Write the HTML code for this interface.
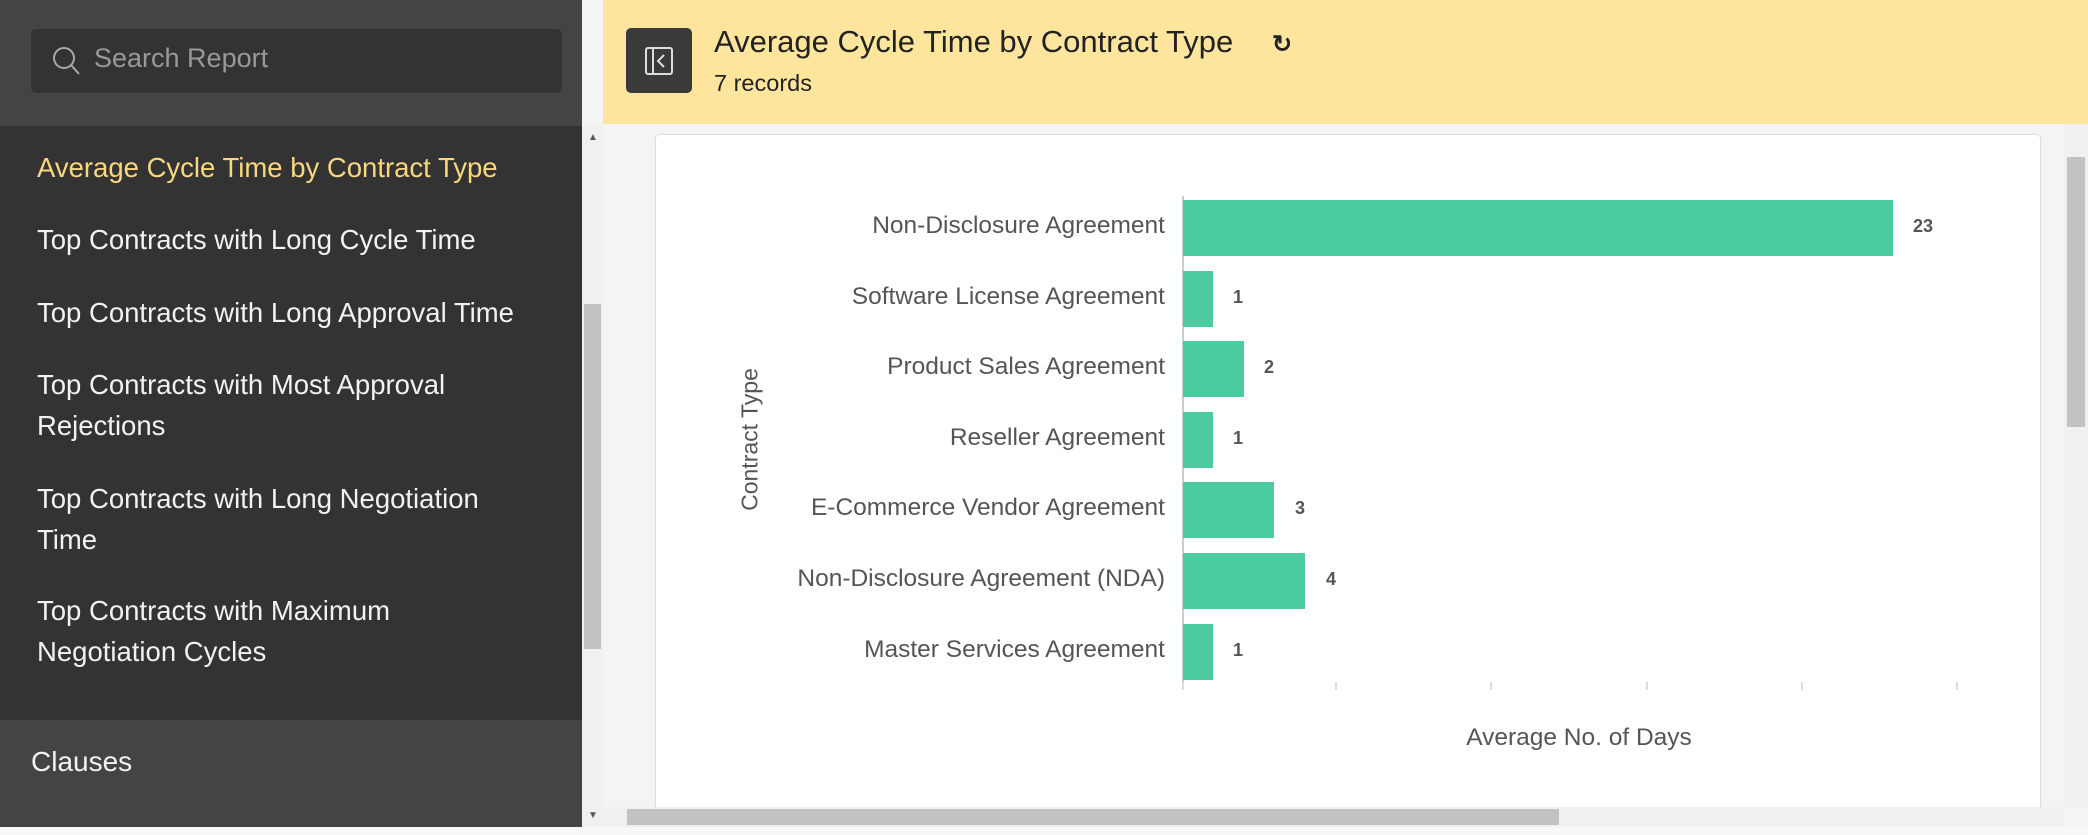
<!DOCTYPE html>
<html><head><style>
*{margin:0;padding:0;box-sizing:border-box}
body{width:2088px;height:835px;overflow:hidden;background:#f4f4f4;font-family:"Liberation Sans",sans-serif;position:relative}
.a{position:absolute}
.side{left:0;top:0;width:582px;height:835px;background:#333}
.item{position:absolute;left:37px;color:#f2f2f2;font-size:27.5px;line-height:41px;white-space:nowrap}
.lbl{position:absolute;right:923px;font-size:24.5px;color:#555;text-align:right;white-space:nowrap}
.bar{position:absolute;left:1183px;height:56px;background:#4bcb9f}
.val{position:absolute;font-size:18px;color:#555;font-weight:bold}
</style></head><body>
<div class="a side"></div>
<div class="a" style="left:0;top:0;width:582px;height:126px;background:#444"></div>
<div class="a" style="left:31px;top:29px;width:531px;height:64px;background:#333;border-radius:5px"></div>
<svg class="a" style="left:52px;top:46px" width="30" height="32"><circle cx="12" cy="12" r="10" fill="none" stroke="#aaa" stroke-width="2"/><line x1="19" y1="19" x2="27" y2="28" stroke="#aaa" stroke-width="2"/></svg>
<div class="a" style="left:94px;top:43px;font-size:27px;color:#999">Search Report</div>
<div class="item" style="top:147px;color:#f8d77e">Average Cycle Time by Contract Type</div>
<div class="item" style="top:219px">Top Contracts with Long Cycle Time</div>
<div class="item" style="top:292px">Top Contracts with Long Approval Time</div>
<div class="item" style="top:364px">Top Contracts with Most Approval<br>Rejections</div>
<div class="item" style="top:478px">Top Contracts with Long Negotiation<br>Time</div>
<div class="item" style="top:590px">Top Contracts with Maximum<br>Negotiation Cycles</div>
<div class="a" style="left:0;top:720px;width:582px;height:115px;background:#444"></div>
<div class="a" style="left:31px;top:746px;font-size:28px;color:#f2f2f2">Clauses</div>
<div class="a" style="left:582px;top:126px;width:21px;height:701px;background:#f0f0f0"></div>
<div class="a" style="left:584px;top:304px;width:17px;height:345px;background:#c1c1c1"></div>
<div class="a" style="left:588px;top:132px;font-size:10px;color:#555">▲</div>
<div class="a" style="left:588px;top:810px;font-size:10px;color:#555">▼</div>
<div class="a" style="left:603px;top:0;width:1485px;height:124px;background:#fde59d"></div>
<div class="a" style="left:626px;top:28px;width:66px;height:65px;background:#3a3a3a;border-radius:5px"></div>
<svg class="a" style="left:645px;top:47px" width="28" height="28"><rect x="1" y="1" width="26" height="26" rx="2" fill="none" stroke="#ddd" stroke-width="2"/><line x1="8" y1="2" x2="8" y2="26" stroke="#ddd" stroke-width="2"/><polyline points="19,8 13,14 19,20" fill="none" stroke="#ddd" stroke-width="2"/></svg>
<div class="a" style="left:714px;top:24px;font-size:31px;color:#222">Average Cycle Time by Contract Type</div>
<div class="a" style="left:1272px;top:30px;font-size:24px;color:#222;font-weight:bold">↻</div>
<div class="a" style="left:714px;top:70px;font-size:23.5px;color:#222">7 records</div>
<div class="a" style="left:655px;top:134px;width:1386px;height:680px;background:#fff;border:1px solid #ddd;border-radius:4px"></div>
<div class="a" style="left:2064px;top:124px;width:24px;height:683px;background:#f0f0f0"></div>
<div class="a" style="left:2067px;top:157px;width:18px;height:270px;background:#c1c1c1"></div>
<div class="a" style="left:603px;top:807px;width:1461px;height:20px;background:#f0f0f0"></div>
<div class="a" style="left:627px;top:809px;width:932px;height:16px;background:#c1c1c1"></div>
<div class="a" style="left:0;top:827px;width:2088px;height:8px;background:#f8f8f8"></div>
<div class="a" style="left:1182px;top:196px;width:2px;height:486px;background:#ccc"></div>
<svg class="a" style="left:1170px;top:680px" width="800" height="12">
<g stroke="#ddd" stroke-width="2"><line x1="13" y1="2" x2="13" y2="10"/><line x1="166" y1="2" x2="166" y2="10"/><line x1="321" y1="2" x2="321" y2="10"/><line x1="477" y1="2" x2="477" y2="10"/><line x1="632" y1="2" x2="632" y2="10"/><line x1="787" y1="2" x2="787" y2="10"/></g></svg>
<div class="bar" style="top:200px;width:710px"></div><div class="val" style="left:1913px;top:216px">23</div>
<div class="bar" style="top:271px;width:30px"></div><div class="val" style="left:1233px;top:287px">1</div>
<div class="bar" style="top:341px;width:61px"></div><div class="val" style="left:1264px;top:357px">2</div>
<div class="bar" style="top:412px;width:30px"></div><div class="val" style="left:1233px;top:428px">1</div>
<div class="bar" style="top:482px;width:91px"></div><div class="val" style="left:1295px;top:498px">3</div>
<div class="bar" style="top:553px;width:122px"></div><div class="val" style="left:1326px;top:569px">4</div>
<div class="bar" style="top:624px;width:30px"></div><div class="val" style="left:1233px;top:640px">1</div>
<div class="lbl" style="top:212px">Non-Disclosure Agreement</div>
<div class="lbl" style="top:283px">Software License Agreement</div>
<div class="lbl" style="top:353px">Product Sales Agreement</div>
<div class="lbl" style="top:424px">Reseller Agreement</div>
<div class="lbl" style="top:494px">E-Commerce Vendor Agreement</div>
<div class="lbl" style="top:565px">Non-Disclosure Agreement (NDA)</div>
<div class="lbl" style="top:636px">Master Services Agreement</div>
<div class="a" style="left:650px;top:426px;width:200px;text-align:center;transform:rotate(-90deg);font-size:23px;color:#555">Contract Type</div>
<div class="a" style="left:1379px;top:724px;width:400px;text-align:center;font-size:24.5px;color:#555">Average No. of Days</div>
</body></html>
